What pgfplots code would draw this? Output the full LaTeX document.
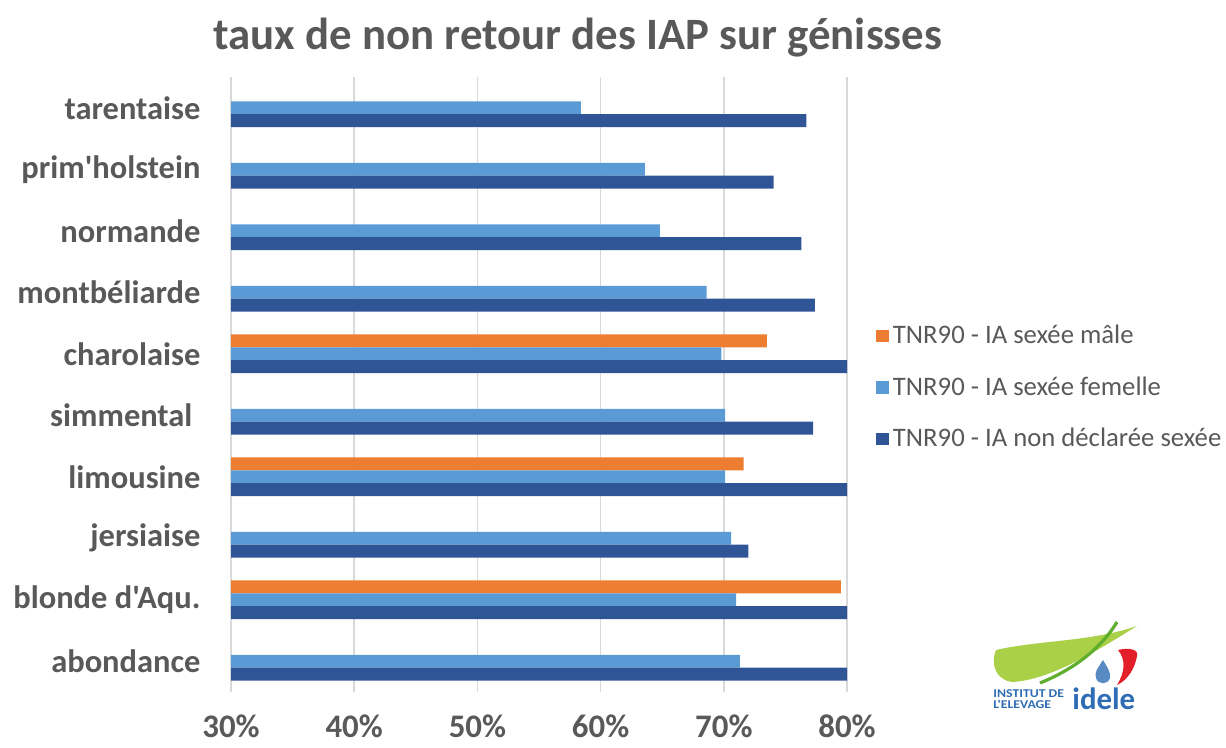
\documentclass[border=0pt]{standalone}
\usepackage{fontspec}
\setmainfont{Carlito}[Ligatures=TeXOff]
\usepackage{pgfplots}
\pgfplotsset{compat=1.18}
\definecolor{tnrM}{HTML}{ED7D31}
\definecolor{tnrF}{HTML}{5B9BD5}
\definecolor{tnrN}{HTML}{2F5597}
\definecolor{txt}{HTML}{595959}
\definecolor{gridc}{HTML}{D9D9D9}
\definecolor{logogreen}{HTML}{A9D046}
\definecolor{logodkgreen}{HTML}{5FAE2E}
\definecolor{logoblue}{HTML}{2E6DB4}
\definecolor{logored}{HTML}{E3202A}

\begin{document}
\begin{tikzpicture}
\begin{axis}[
    scale only axis,
    width=308bp, height=307.5bp,
    xbar, bar width=0.21,
    xmin=30, xmax=80, ymin=-0.5, ymax=9.5,
    xtick={30,40,50,60,70,80},
    xticklabels={30\%,40\%,50\%,60\%,70\%,80\%},
    ytick={0,...,9},
    yticklabels={abondance, blonde d'Aqu., jersiaise, limousine, {simmental\kern4bp}, charolaise, montbéliarde, normande, prim'holstein, tarentaise},
    xmajorgrids, grid style={gridc, line width=0.8bp},
    axis line style={draw=none},
    major tick style={draw=none},
    xticklabel style={font=\fontsize{16.5}{18}\selectfont\bfseries, text=txt, yshift=-8bp},
    yticklabel style={font=\fontsize{16.3}{18}\selectfont\bfseries, text=txt, xshift=-7.5bp},
    title={taux de non retour des IAP sur génisses},
    title style={at={(0.563,1)}, anchor=center, yshift=13.5bp,
        font=\fontsize{22.5}{26}\selectfont\bfseries, text=txt},
    legend style={at={(1.037,0.61)}, anchor=north west, draw=none, fill=none,
        font=\fontsize{13.4}{16}\selectfont, text=txt, row sep=11bp,
        cells={anchor=west}},
    legend image code/.code={\fill[#1] (-3bp,-3.2bp) rectangle (3.4bp,3.2bp);},
]
\addplot[fill=tnrM, draw=none, bar shift=0.21] coordinates {
    (79.5,1) (71.6,3) (73.5,5)
};
\addplot[fill=tnrF, draw=none, bar shift=0] coordinates {
    (71.3,0) (71.0,1) (70.6,2) (70.1,3) (70.1,4)
    (69.8,5) (68.6,6) (64.8,7) (63.6,8) (58.4,9)
};
\addplot[fill=tnrN, draw=none, bar shift=-0.21] coordinates {
    (82,0) (82,1) (72.0,2) (82,3) (77.25,4)
    (82,5) (77.4,6) (76.3,7) (74.05,8) (76.7,9)
};
\legend{TNR90 - IA sexée mâle, TNR90 - IA sexée femelle, TNR90 - IA non déclarée sexée}
\end{axis}

% logo, in pixel coordinates of the reference (y down)
\begin{scope}[x=0.5bp, y=-0.5bp, shift={(-115.5bp,346bp)}]
\fill[logogreen] (996,650) .. controls (1040,640) and (1090,642) .. (1137,626)
    .. controls (1095,652) and (1050,680) .. (1012,682)
    .. controls (996,680) and (990,664) .. (996,650) -- cycle;
\draw[logodkgreen, line width=1.6bp] (1040,683) .. controls (1072,670) and (1100,650) .. (1117,622);
\fill[logoblue!80] (1103,660) .. controls (1098,668) and (1094,672) .. (1096,678)
    .. controls (1098,685) and (1108,685) .. (1110,678)
    .. controls (1111,672) and (1107,667) .. (1103,660) -- cycle;
\fill[logored] (1118,650) .. controls (1130,647) and (1139,650) .. (1137,656)
    .. controls (1135,668) and (1128,680) .. (1117,685)
    .. controls (1125,672) and (1126,660) .. (1118,650) -- cycle;
\node[anchor=west, inner sep=0, text=logoblue, align=left,
    font=\fontsize{6}{5.2}\selectfont\bfseries] at (993,699)
    {\scalebox{1.15}[1]{INSTITUT DE}\\\scalebox{1.15}[1]{L'ELEVAGE}};
\node[anchor=west, inner sep=0, text=logoblue,
    font=\fontsize{15.5}{16}\selectfont\bfseries] at (1072,699) {idele};
\pgfresetboundingbox
\path[use as bounding box] (0,0) rectangle (1226,747);
\end{scope}
\end{tikzpicture}
\end{document}
